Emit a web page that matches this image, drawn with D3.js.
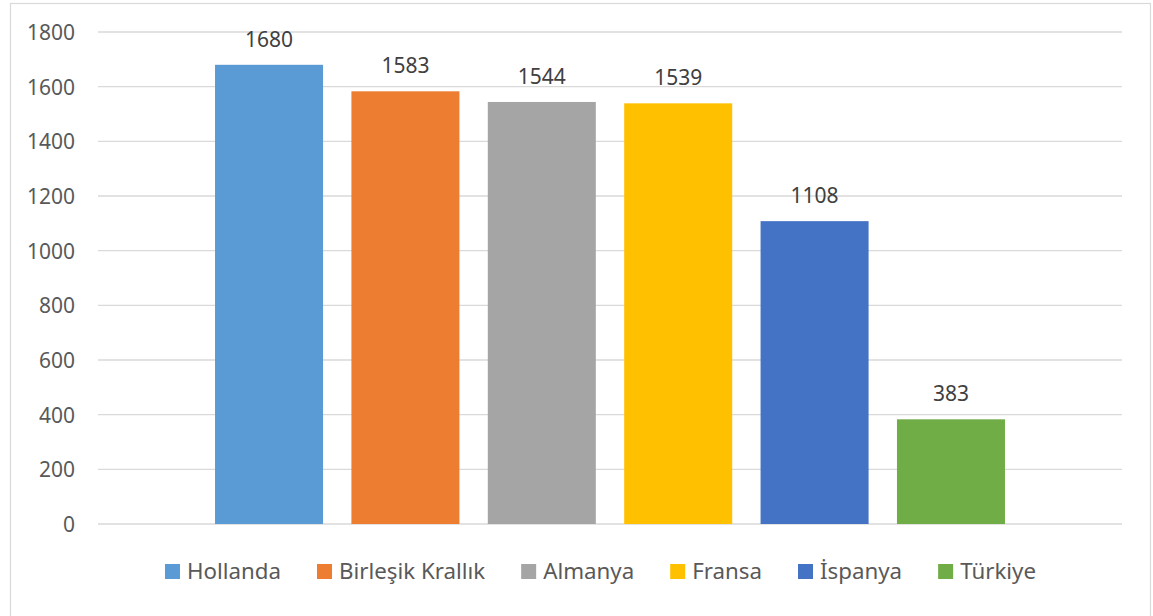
<!DOCTYPE html>
<html>
<head>
<meta charset="utf-8">
<script src="https://cdn.jsdelivr.net/npm/d3@7"></script>
<style>
  body { margin: 0; background: #fff; }
  text { font-family: "Noto Sans", "Open Sans", sans-serif; }
</style>
</head>
<body>
<div id="chart"></div>
<script>
var countries = ["Hollanda", "Birleşik Krallık", "Almanya", "Fransa", "İspanya", "Türkiye"];
var values = [1680, 1583, 1544, 1539, 1108, 383];
var colors = ["#5B9BD5", "#ED7D31", "#A5A5A5", "#FFC000", "#4472C4", "#70AD47"];
var yTicks = [0, 200, 400, 600, 800, 1000, 1200, 1400, 1600, 1800];

var width = 1153, height = 616;
var plot = { left: 98, right: 1122, top: 32, bottom: 524 };

var svg = d3.select("#chart").append("svg")
    .attr("width", width)
    .attr("height", height);

// outer chart border
svg.append("rect")
    .attr("x", 10.5).attr("y", 3.5)
    .attr("width", 1140).attr("height", 630)
    .attr("fill", "#fff")
    .attr("stroke", "#d9d9d9")
    .attr("stroke-width", 1.2);

// one category, six series -> band scale over the series
var x = d3.scaleBand()
    .domain(countries)
    .range([plot.left, plot.right])
    .paddingInner(0.208)
    .paddingOuter(0.858);

var y = d3.scaleLinear()
    .domain([0, 1800])
    .range([plot.bottom, plot.top]);

// gridlines
svg.append("g")
    .selectAll("line")
    .data(yTicks)
    .enter().append("line")
    .attr("x1", plot.left).attr("x2", plot.right)
    .attr("y1", function(d) { return y(d); })
    .attr("y2", function(d) { return y(d); })
    .attr("stroke", "#d9d9d9")
    .attr("stroke-width", 1.4);

// y axis labels
var yAxis = d3.axisLeft(y)
    .tickValues(yTicks)
    .tickFormat(d3.format("d"))
    .tickSize(0)
    .tickPadding(0);
var gy = svg.append("g")
    .attr("transform", "translate(75,0)")
    .call(yAxis);
gy.select(".domain").remove();
gy.selectAll("text")
    .attr("fill", "#595959")
    .style("font-size", "21px")
    .style("font-family", "'Noto Sans', 'Open Sans', sans-serif")
    .attr("dy", "0.36em");

// bars
svg.append("g")
    .selectAll("rect")
    .data(values)
    .enter().append("rect")
    .attr("x", function(d, i) { return x(countries[i]); })
    .attr("y", function(d) { return y(d); })
    .attr("width", x.bandwidth())
    .attr("height", function(d) { return y(0) - y(d); })
    .attr("fill", function(d, i) { return colors[i]; });

// value labels
svg.append("g")
    .selectAll("text")
    .data(values)
    .enter().append("text")
    .attr("x", function(d, i) { return x(countries[i]) + x.bandwidth() / 2; })
    .attr("y", function(d) { return y(d) - 18; })
    .attr("text-anchor", "middle")
    .attr("fill", "#404040")
    .style("font-size", "21px")
    .text(function(d) { return d; });

// legend
var legend = svg.append("g");
var items = legend.selectAll("g")
    .data(countries)
    .enter().append("g");

items.append("rect")
    .attr("width", 15).attr("height", 15)
    .attr("y", 564)
    .attr("fill", function(d, i) { return colors[i]; });

items.append("text")
    .attr("x", 22)
    .attr("y", 579)
    .attr("fill", "#595959")
    .style("font-size", "22.3px")
    .text(function(d) { return d; });

var offsets = [], pos = 0;
items.each(function() {
    var w = d3.select(this).select("text").node().getComputedTextLength();
    offsets.push(pos);
    pos += 22 + w + 36;
});
var total = pos - 36;
var startX = 600.5 - total / 2;
items.attr("transform", function(d, i) { return "translate(" + (startX + offsets[i]) + ",0)"; });
</script>
</body>
</html>
